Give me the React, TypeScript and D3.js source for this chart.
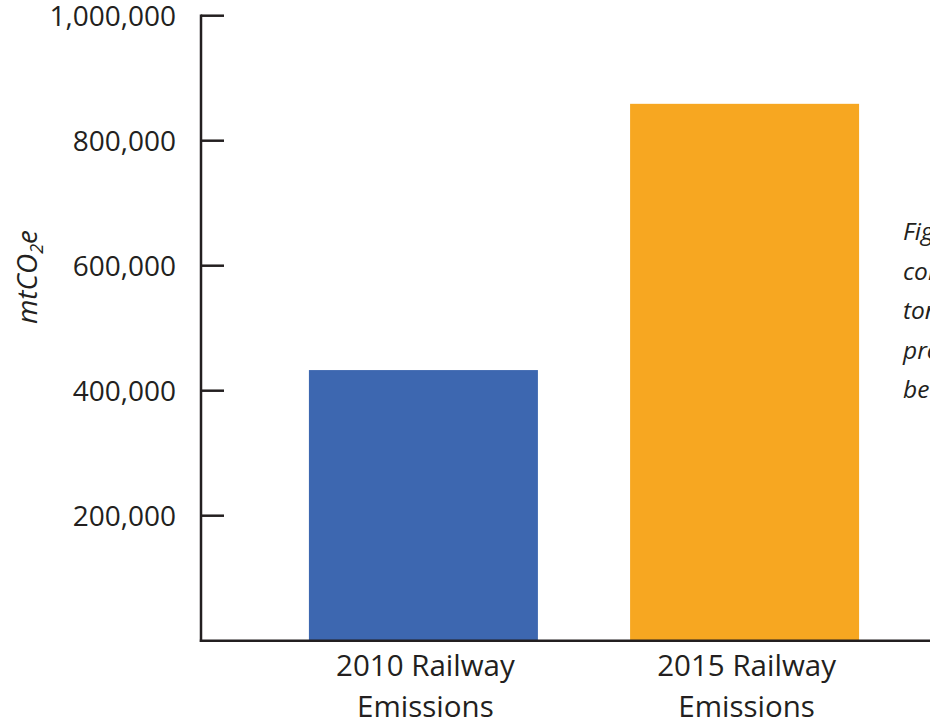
import React from "react";
import * as d3 from "d3";

const categories = ["2010 Railway Emissions", "2015 Railway Emissions"];
const categoryLines = [["2010 Railway", "Emissions"], ["2015 Railway", "Emissions"]];
const values = [433000, 859000];
const colors = ["#3d67b0", "#f7a721"];
const yTicks = [200000, 400000, 600000, 800000, 1000000];
const sideTextLines = [
  "Figure 4: Railway emissions",
  "compared between years,",
  "tonnes of carbon dioxide",
  "produced in each period",
  "between 2010 and 2015",
];

const W = 930;
const H = 720;
const axisX = 201;
const y0 = 640.7;
const y1 = 15.7;
const ink = "#231f20";
const font = "'Open Sans', sans-serif";

export default function App() {
  const y = d3.scaleLinear().domain([0, 1000000]).range([y0, y1]);
  const x = d3
    .scaleBand<string>()
    .domain(categories)
    .range([axisX, 967])
    .paddingInner(0.287)
    .paddingOuter(0.336);
  const fmt = d3.format(",");

  return (
    <svg
      width={W}
      height={H}
      style={{ position: "absolute", left: 0, top: 0, overflow: "hidden", background: "#fff" }}
      fontFamily={font}
    >
      <rect x={0} y={0} width={W} height={H} fill="#fff" />
      {categories.map((c, i) => (
        <rect
          key={c}
          x={x(c)}
          y={y(values[i])}
          width={x.bandwidth()}
          height={y(0) - y(values[i])}
          fill={colors[i]}
        />
      ))}
      {/* y axis */}
      <line x1={axisX} x2={axisX} y1={y(1000000) - 1.2} y2={y(0) + 1.2} stroke={ink} strokeWidth={2.5} />
      {yTicks.map((t) => (
        <g key={t}>
          <line x1={axisX} x2={axisX + 23} y1={y(t)} y2={y(t)} stroke={ink} strokeWidth={2.5} />
          <text
            x={176}
            y={y(t)}
            dy="0.36em"
            textAnchor="end"
            fontSize={28}
            fill={ink}
          >
            {fmt(t)}
          </text>
        </g>
      ))}
      {/* x axis */}
      <line x1={axisX - 1.2} x2={W + 10} y1={y(0)} y2={y(0)} stroke={ink} strokeWidth={2.5} />
      {categories.map((c, i) => (
        <text
          key={c}
          x={(x(c) as number) + x.bandwidth() / 2}
          textAnchor="middle"
          fontSize={29.5}
          fill={ink}
        >
          {categoryLines[i].map((ln, j) => (
            <tspan key={j} x={(x(c) as number) + x.bandwidth() / 2 + 2} y={676 + j * 41}>
              {ln}
            </tspan>
          ))}
        </text>
      ))}
      {/* y title */}
      <text
        transform={`translate(37, 277) rotate(-90)`}
        textAnchor="middle"
        fontSize={28}
        fontStyle="italic"
        fill={ink}
      >
        mtCO<tspan fontSize={18} dy={6}>2</tspan>
        <tspan dy={-6}>e</tspan>
      </text>
      {/* side caption, cropped */}
      {sideTextLines.map((ln, i) => (
        <text
          key={i}
          x={903}
          y={240 + i * 39.5}
          fontSize={24.5}
          fontStyle="italic"
          fill={ink}
        >
          {ln}
        </text>
      ))}
    </svg>
  );
}
